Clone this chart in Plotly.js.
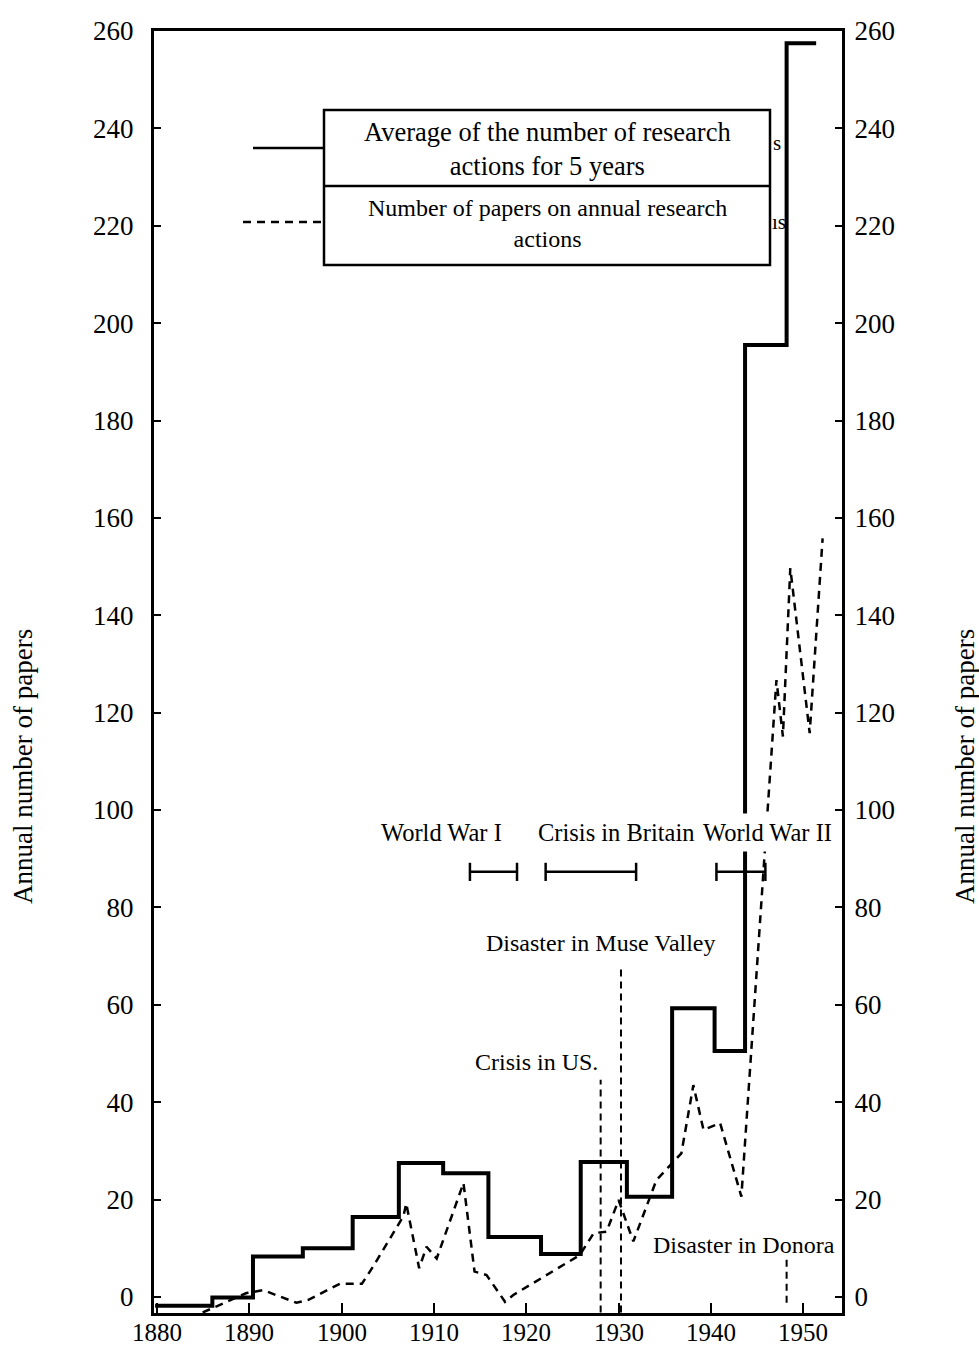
<!DOCTYPE html>
<html>
<head>
<meta charset="utf-8">
<script src="https://cdn.plot.ly/plotly-3.0.1.min.js"></script>
<style>html,body{margin:0;padding:0;background:#fff;}#chart{width:979px;height:1346px;}</style>
</head>
<body>
<div id="chart"></div>
<script>
// ---- data ----
// 5-year average (step line): start year of each step and its level
var stepYears  = [1879.8, 1886.0, 1890.4, 1895.8, 1901.2, 1906.2, 1911.0, 1915.9, 1921.6, 1925.9, 1930.9, 1935.8, 1940.4, 1943.7, 1948.2, 1951.4];
var stepValues = [-1.8, -0.1, 8.3, 10.0, 16.4, 27.5, 25.4, 12.3, 8.8, 27.7, 20.6, 59.3, 50.5, 195.5, 257.5, 257.5];

// annual number of papers (dashed line)
var annualYears  = [1884.95, 1889.7, 1891.5, 1895.1, 1896.4, 1899.8, 1902.2, 1903.4, 1906.7, 1907.0, 1908.4, 1909.2, 1910.3, 1913.2, 1914.4, 1915.7, 1917.7, 1918.6, 1925.8, 1927.3, 1928.7, 1930.0, 1931.6, 1934.1, 1936.8, 1938.1, 1939.2, 1941.0, 1943.3, 1947.1, 1947.8, 1948.6, 1950.7, 1952.1];
var annualValues = [-3.2, 0.8, 1.4, -1.2, -0.6, 2.7, 2.7, 6.2, 16.6, 19.2, 5.9, 10.3, 7.9, 23.4, 5.2, 4.5, -1.0, 0.4, 8.6, 13.1, 13.4, 19.9, 11.4, 24.0, 29.5, 43.5, 34.3, 35.7, 20.6, 126.7, 115.1, 149.7, 115.8, 155.8];

// events (vertical dashed markers)
var eventNames  = ["Crisis in US.", "Disaster in Muse Valley", "Disaster in Donora"];
var eventYears  = [1928.06, 1930.26, 1948.2];
var eventBottom = [-3.2, -3.2, -1.2];
var eventTop    = [44.6, 67.8, 8.0];

// periods (horizontal bars)
var periodNames = ["World War I", "Crisis in Britain", "World War II"];
var periodStart = [1913.9, 1922.1, 1940.6];
var periodEnd   = [1919.0, 1931.9, 1945.9];
var periodLevel = 87.3;

// axis ticks
var xTicks = [1880, 1890, 1900, 1910, 1920, 1930, 1940, 1950];
var yTicks = [0, 20, 40, 60, 80, 100, 120, 140, 160, 180, 200, 220, 240, 260];

var legendNames = ["Average of the number of research<br>actions for 5 years", "Number of papers on annual research<br>actions"];
var axisTitle = "Annual number of papers";

// ---- layout helpers (pixel -> paper) ----
var L = 154, R = 842, T = 31, B = 1313;
function px(x) { return (x - L) / (R - L); }
function py(y) { return (B - y) / (B - T); }

var FONT = "Liberation Serif, Times New Roman, serif";

var traces = [];
traces.push({
  x: stepYears, y: stepValues, type: "scatter", mode: "lines",
  line: { shape: "hv", color: "#000", width: 4 }, hoverinfo: "skip"
});
traces.push({
  x: annualYears, y: annualValues, type: "scatter", mode: "lines",
  line: { color: "#000", width: 2.5, dash: "8px,6px" }, hoverinfo: "skip"
});
var ex = [], ey = [];
for (var i = 0; i < eventYears.length; i++) {
  ex.push(eventYears[i], eventYears[i], null);
  ey.push(eventBottom[i], eventTop[i], null);
}
traces.push({
  x: ex, y: ey, type: "scatter", mode: "lines", yaxis: "y2",
  line: { color: "#000", width: 2, dash: "7px,5px" }, hoverinfo: "skip"
});
for (var j = 0; j < periodStart.length; j++) {
  traces.push({
    x: [periodStart[j], periodEnd[j]], y: [periodLevel, periodLevel],
    type: "scatter", mode: "lines+markers",
    line: { color: "#000", width: 2.5 },
    marker: { symbol: "line-ns", size: 13, line: { color: "#000", width: 2.5 } },
    hoverinfo: "skip"
  });
}

var axisCommon = {
  range: [-3.3, 260], tickvals: yTicks, ticktext: yTicks.map(String),
  ticks: "inside", ticklen: 7, tickwidth: 2, tickcolor: "#000",
  showline: true, linewidth: 3, linecolor: "#000",
  showgrid: false, zeroline: false,
  tickfont: { family: FONT, size: 27, color: "#000" }
};

var yaxis = Object.assign({}, axisCommon, { side: "left", ticklabelstandoff: 12 });
var yaxis2 = Object.assign({}, axisCommon, { side: "right", overlaying: "y", ticklabelstandoff: 4 });

var annotations = [];
function addText(text, x, y, size, opts) {
  var a = {
    xref: "paper", yref: "paper", x: px(x), y: py(y), text: text, showarrow: false,
    xanchor: "center", yanchor: "middle",
    font: { family: FONT, size: size, color: "#000" }
  };
  if (opts) Object.assign(a, opts);
  annotations.push(a);
}
addText(periodNames[0], 441, 832, 24.5);
addText(periodNames[1], 616, 832, 24.5);
addText(periodNames[2], 767, 832, 24.5, { bgcolor: "#fff", borderpad: 5 });
addText(eventNames[1], 601, 943, 24);
addText(eventNames[0], 536, 1062, 24);
addText(eventNames[2], 744, 1245, 24);
addText(axisTitle, 23, 767, 27, { textangle: -90 });
addText(axisTitle, 965, 767, 27, { textangle: -90 });
addText(legendNames[0], 547, 149, 26.5);
addText(legendNames[1], 547, 224, 24);
addText("s", 777, 143, 21);
addText("ıs", 779, 222, 21);

// x tick labels placed just under the axis line
for (var k = 0; k < xTicks.length; k++) {
  annotations.push({
    xref: "x", yref: "paper", x: xTicks[k], y: py(1347), text: String(xTicks[k]),
    showarrow: false, xanchor: "center", yanchor: "bottom", borderpad: 0,
    font: { family: FONT, size: 25, color: "#000" }
  });
}

var shapes = [
  { type: "rect", xref: "paper", yref: "paper", x0: px(324), x1: px(770), y0: py(110), y1: py(265),
    line: { color: "#000", width: 2.5 }, fillcolor: "#fff", layer: "above" },
  { type: "line", xref: "paper", yref: "paper", x0: px(324), x1: px(770), y0: py(186), y1: py(186),
    line: { color: "#000", width: 2.5 } },
  { type: "line", xref: "paper", yref: "paper", x0: px(253), x1: px(324), y0: py(148), y1: py(148),
    line: { color: "#000", width: 2.5 } },
  { type: "line", xref: "paper", yref: "paper", x0: px(243), x1: px(324), y0: py(222), y1: py(222),
    line: { color: "#000", width: 2.5, dash: "8px,6px" } }
];

var layout = {
  width: 979, height: 1346,
  margin: { l: L, r: 979 - R, t: T, b: 1346 - B, pad: 0 },
  paper_bgcolor: "#fff", plot_bgcolor: "#fff",
  showlegend: false,
  font: { family: FONT, color: "#000" },
  xaxis: {
    range: [1879.68, 1954.2], tickvals: xTicks, showticklabels: false,
    ticks: "inside", ticklen: 10, tickwidth: 2, tickcolor: "#000",
    showline: true, linewidth: 3, linecolor: "#000", mirror: true,
    showgrid: false, zeroline: false
  },
  yaxis: yaxis,
  yaxis2: yaxis2,
  annotations: annotations,
  shapes: shapes
};

Plotly.newPlot("chart", traces, layout, { staticPlot: true, displayModeBar: false });
</script>
</body>
</html>
